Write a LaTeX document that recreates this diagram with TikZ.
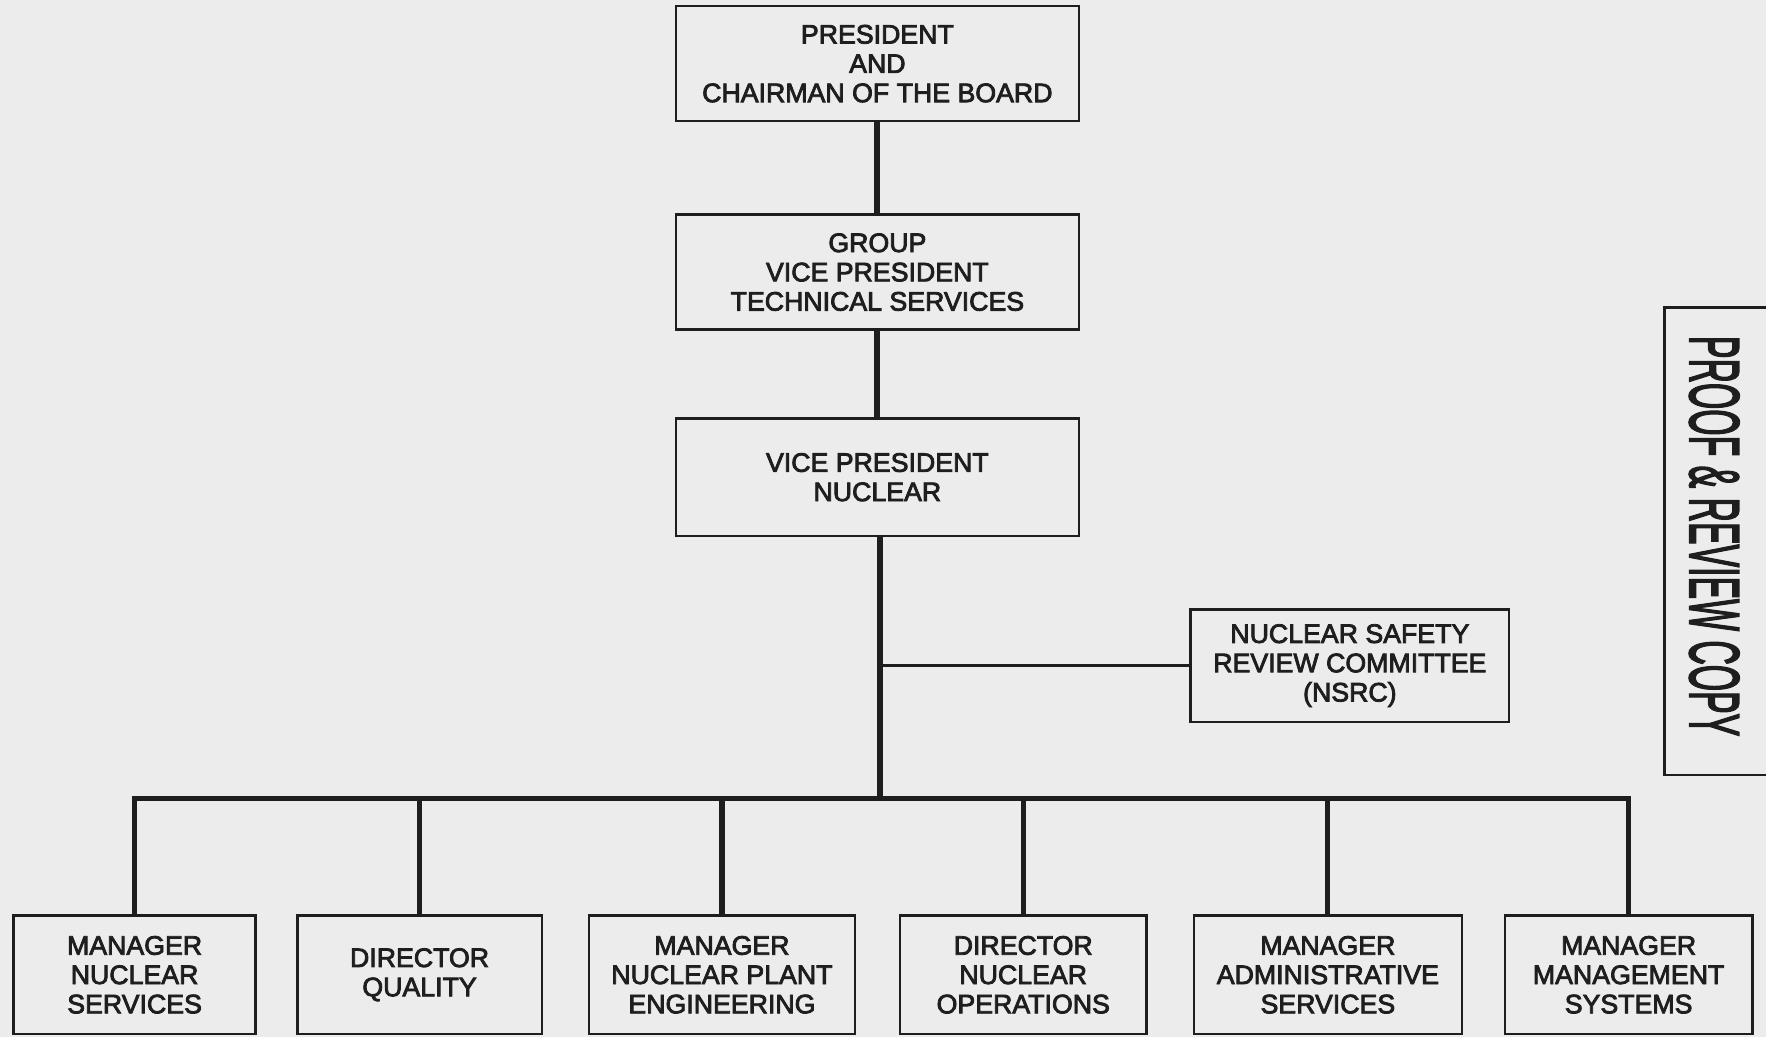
\documentclass[tikz,border=0pt]{standalone}
\usepackage{fontspec}
\setmainfont{Liberation Sans}
\newfontfamily\orgfont{Liberation Sans}[FakeBold=3]
\usepackage{tikz}
\usetikzlibrary{positioning, calc}
\definecolor{paper}{RGB}{236,236,236}
\definecolor{ink}{RGB}{30,30,30}
\tikzset{
    orgbox/.style={rectangle, draw=ink, line width=1.2pt, fill=paper, inner sep=0pt, text=ink, align=center, font=\orgfont\fontsize{13.5}{14.8}\selectfont},
    trunk/.style={draw=ink, line width=3pt},
    busline/.style={draw=ink, line width=2.6pt},
    sideline/.style={draw=ink, line width=1.6pt},
}

\begin{document}
\begin{tikzpicture}[
    node distance=1.6cm,
    topbox/.style={orgbox, minimum width=7.15cm, minimum height=2.04cm},
    unitbox/.style={orgbox, minimum height=2.1cm},
    stampline/.style={draw=ink, line width=1.3pt},
]

\useasboundingbox (0,0) rectangle (31.36,-18.42);
\fill[paper] (0,0) rectangle (31.36,-18.42);

% Top of the chain
\node[topbox] (pres) at (15.58,-1.13) {PRESIDENT\\AND\\CHAIRMAN OF THE BOARD};
\node[topbox, below=1.62cm of pres] (gvp) {GROUP\\VICE PRESIDENT\\TECHNICAL SERVICES};
\node[topbox, below=1.54cm of gvp, minimum height=2.08cm] (vpn) {VICE PRESIDENT\\NUCLEAR};

% Staff committee
\node[orgbox, minimum width=5.66cm, minimum height=2cm] (nsrc) at (23.97,-11.82) {NUCLEAR SAFETY\\REVIEW COMMITTEE\\(NSRC)};

% Reporting units
\node[unitbox, minimum width=4.30cm] (mns) at (2.39,-17.31) {MANAGER\\NUCLEAR\\SERVICES};
\node[unitbox, minimum width=4.34cm] (dq) at (7.45,-17.31) {DIRECTOR\\QUALITY};
\node[unitbox, minimum width=4.72cm] (mnpe) at (12.82,-17.31) {MANAGER\\NUCLEAR PLANT\\ENGINEERING};
\node[unitbox, minimum width=4.38cm] (dno) at (18.17,-17.31) {DIRECTOR\\NUCLEAR\\OPERATIONS};
\node[unitbox, minimum width=4.76cm] (mas) at (23.58,-17.31) {MANAGER\\ADMINISTRATIVE\\SERVICES};
\node[unitbox, minimum width=4.40cm] (mms) at (28.92,-17.31) {MANAGER\\MANAGEMENT\\SYSTEMS};

% Lines
\coordinate (bus) at ($(vpn.south |- 0,-14.18)+(0.05,0)$);
\draw[trunk] (pres.south) -- (gvp.north);
\draw[trunk] (gvp.south) -- (vpn.north);
\draw[trunk] ($(vpn.south)+(0.05,0)$) -- (bus);
\draw[sideline] (bus |- nsrc.west) -- (nsrc.west);
\draw[busline] (mns.north) |- (bus) -| (mms.north);
\foreach \u in {dq, mnpe, dno, mas}
    \draw[busline] (\u.north) -- (\u.north |- bus);

% Stamp
\node[rotate=-90, text=ink, inner sep=0pt] (stamp) at (30.44,-9.52)
    {\scalebox{0.48}[1]{\orgfont\fontsize{35.6}{36}\selectfont PROOF \& REVIEW COPY}};
\draw[stampline] (31.36,-5.46) -- (29.56,-5.46) -- (29.56,-13.76) -- (31.36,-13.76);

\end{tikzpicture}
\end{document}
